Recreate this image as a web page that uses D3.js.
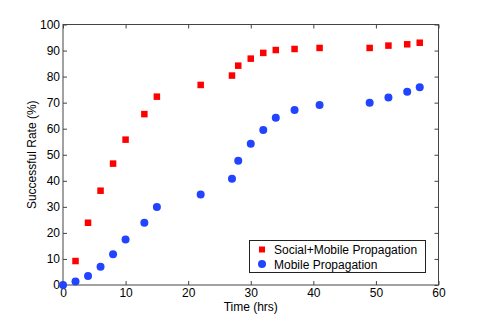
<!DOCTYPE html>
<html><head><meta charset="utf-8">
<script src="https://cdn.jsdelivr.net/npm/d3@7"></script>
<style>body{margin:0;background:#fff}svg{display:block}text{font-family:"Liberation Sans",Arial,sans-serif;fill:#000}</style>
</head><body><div id="c"></div>
<script>
const timesSocial = [2,4,6,8,10,13,15,22,27,28,30,32,34,37,41,49,52,55,57];
const socialMobile = [9.2,23.9,36.2,46.6,55.8,65.6,72.3,76.8,80.4,84.2,86.9,89.1,90.2,90.6,91.0,91.0,91.9,92.4,93.0];
const timesMobile = [0,2,4,6,8,10,13,15,22,27,28,30,32,34,37,41,49,52,55,57];
const mobileOnly = [0,1.3,3.5,7.0,11.8,17.5,23.9,29.9,34.7,40.8,47.7,54.2,59.5,64.2,67.2,69.1,70.0,72.0,74.2,75.9];
const xTicks = [0,10,20,30,40,50,60];
const yTicks = [0,10,20,30,40,50,60,70,80,90,100];
const seriesNames = ["Social+Mobile Propagation","Mobile Propagation"];

const W=485,H=321;
const L=63,R=438.5,T=24.5,B=285;
const svg=d3.select("#c").append("svg").attr("width",W).attr("height",H);
const x=d3.scaleLinear().domain([0,60]).range([L,R]);
const y=d3.scaleLinear().domain([0,100]).range([B,T]);
const axisColor="#444";

svg.append("rect").attr("x",L).attr("y",T).attr("width",R-L).attr("height",B-T)
  .attr("fill","none").attr("stroke",axisColor).attr("stroke-width",1);

function styleAxis(g){g.select(".domain").remove();g.selectAll("line").attr("stroke",axisColor);g.selectAll("text").attr("font-size","12px").attr("font-family",'"Liberation Sans",Arial,sans-serif').attr("fill","#000");}
const tk=-4;
svg.append("g").attr("transform",`translate(0,${B})`).call(d3.axisBottom(x).tickValues(xTicks).tickSize(tk).tickPadding(3).tickFormat(d3.format("d"))).call(styleAxis);
svg.append("g").attr("transform",`translate(0,${T})`).call(d3.axisTop(x).tickValues(xTicks).tickSize(tk).tickFormat("")).call(styleAxis);
svg.append("g").attr("transform",`translate(${L},0)`).call(d3.axisLeft(y).tickValues(yTicks).tickSize(tk).tickPadding(3).tickFormat(d3.format("d"))).call(styleAxis);
svg.append("g").attr("transform",`translate(${R},0)`).call(d3.axisRight(y).tickValues(yTicks).tickSize(tk).tickFormat("")).call(styleAxis);

svg.append("text").attr("x",(L+R)/2).attr("y",310.5).attr("text-anchor","middle").attr("font-size","12px").text("Time (hrs)");
svg.append("text").attr("transform",`translate(35.5,${(T+B)/2}) rotate(-90)`).attr("text-anchor","middle").attr("font-size","12px").text("Successful Rate (%)");

const red="#ff0000", blue="#2244ff";
const sq=6.5;
svg.append("g").selectAll("rect").data(timesSocial.map((t,i)=>[t,socialMobile[i]])).join("rect")
  .attr("x",d=>x(d[0])-sq/2).attr("y",d=>y(d[1])-sq/2).attr("width",sq).attr("height",sq).attr("fill",red);
svg.append("g").selectAll("circle").data(timesMobile.map((t,i)=>[t,mobileOnly[i]])).join("circle")
  .attr("cx",d=>x(d[0])).attr("cy",d=>y(d[1])).attr("r",4).attr("fill",blue);

const lg=svg.append("g");
lg.append("rect").attr("x",249.5).attr("y",240.5).attr("width",176).attr("height",32).attr("fill","#fff").attr("stroke","#222").attr("stroke-width",1);
lg.append("rect").attr("x",262-3).attr("y",249.5-3).attr("width",6).attr("height",6).attr("fill",red);
lg.append("circle").attr("cx",262).attr("cy",264).attr("r",4).attr("fill",blue);
lg.append("text").attr("x",274).attr("y",253.5).attr("font-size","12px").text(seriesNames[0]);
lg.append("text").attr("x",274).attr("y",268.5).attr("font-size","12px").text(seriesNames[1]);
</script></body></html>
